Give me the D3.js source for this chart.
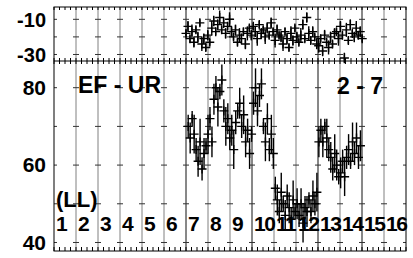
<!DOCTYPE html>
<html>
<head>
<meta charset="utf-8">
<script src="https://cdn.jsdelivr.net/npm/d3@7"></script>
<style>
  body { margin: 0; background: #fff; }
  svg { display: block; }
  text { font-family: "Liberation Sans", Arial, sans-serif; font-weight: bold; fill: #000; }
</style>
</head>
<body>
<svg id="chart" width="413" height="258"></svg>
<script>
// column labels along the bottom
const columnLabels = ["1","2","3","4","5","6","7","8","9","10","11","12","13","14","15","16"];
const upperTicks = [-10, -20, -30];
const upperLabels = [-10, -30];
const lowerTicks = [80, 70, 60, 50, 40];
const lowerLabels = [80, 60, 40];

// upper panel series (x starts at column 6.0, one sample every 0.09 column)
const upperStart = 6.0, upperStep = 0.09;
const upperValues = [
  -18, -14, -21, -17, -23, -16, -20, -12,
  -24, -21, -26, -19, -23,
  -15, -11, -17, -13, -9, -16, -12, -18, -14, -10, -17,
  -20, -16, -23, -19, -21, -17, -24, -18, -15,
  -19, -14, -17, -21, -13, -18, -16, -20, -15, -19, -12, -17, -22, -16, -19,
  -20, -24, -17, -21, -26, -18, -22, -15, -20, -23,
  -19, -13, -21, -9, -18, -22, -17, -20, -24,
  -25, -21, -28, -19, -23, -26, -20, -24, -18,
  -17, -21, -14, -19, -32, -16, -22, -13, -18, -20, -15, -19, -17, -21
];
const upperErrors = [
  2, 3, 2, 4, 3, 2, 3, 2, 4, 3,
  2, 3, 2, 4, 3, 2, 3, 4, 2, 3,
  3, 2, 4, 3, 2, 3, 2, 4, 3, 2,
  3, 4, 2, 3, 2, 3, 4, 2, 3, 2,
  4, 3, 2, 3, 2, 4, 3, 2, 3, 4,
  2, 3, 2, 4, 3, 2, 3, 2, 4, 3,
  2, 3, 4, 2, 3, 2, 3, 4, 2, 3,
  3, 2, 4, 3, 2, 3, 2, 4, 3, 2,
  3, 4, 2, 3, 2, 3, 4, 2, 3, 2
];

// lower panel series with error half-widths
const lowerStart = 6.1, lowerStep = 0.09;
const lowerValues = [
  70, 67, 72, 68,
  64, 61, 66, 59, 63, 65,
  68, 72, 66,
  77, 80, 75, 79, 82,
  74, 70, 72, 67,
  69, 64, 71,
  74, 76, 70, 73,
  66, 69, 63, 68,
  76, 80, 74, 78, 81,
  70, 66, 72, 64,
  68, 63, 54,
  51, 48, 53, 50, 47, 52,
  49, 46, 51, 48, 50,
  47, 50, 45, 49, 48,
  51, 48, 52, 50, 53,
  66,
  69, 66, 70, 67, 64,
  62, 59, 63, 60, 57,
  58, 61, 57, 62,
  64, 61, 66, 63, 67, 62, 65
];
const lowerErrors = [
  3, 4, 2, 5, 3, 4, 6, 3, 4, 2,
  5, 3, 4, 4, 3, 5, 2, 4, 3, 5,
  4, 3, 4, 5, 3, 2, 4, 3, 5, 4,
  3, 4, 2, 3, 5, 4, 3, 4, 2, 5,
  4, 3, 5, 4, 3, 4, 3, 5, 2, 4,
  3, 4, 3, 5, 2, 4, 3, 4, 5, 3,
  4, 2, 3, 4, 3, 5, 4, 3, 4, 2,
  5, 3, 4, 3, 5, 4, 2, 4, 3, 5,
  3, 4, 2, 5, 3, 4, 3, 4
];

const svg = d3.select("#chart");
const plotL = 54, plotR = 406, plotT = 7, plotM = 61, plotB = 251;

const x = d3.scaleLinear().domain([0, 16]).range([plotL, plotR]);
const yUp = d3.scaleLinear().domain([-33.7, -3.0]).range([plotM, plotT]);
const yLo = d3.scaleLinear().domain([37.8, 86.9]).range([plotB, plotM]);

const grid = svg.append("g");

// vertical grid lines (darker ones at some boundaries)
const darkCols = [6, 9, 12, 14];
grid.selectAll("line.v")
  .data(d3.range(1, 16))
  .enter().append("line")
  .attr("x1", d => x(d)).attr("x2", d => x(d))
  .attr("y1", plotT).attr("y2", plotB)
  .attr("stroke", d => darkCols.includes(d) ? "#111" : "#808080")
  .attr("stroke-width", 1);

// little crosses at the y ticks on every grid line
function tickMarks(ticks, y) {
  const pairs = [];
  d3.range(0, 17).forEach(c => ticks.forEach(t => pairs.push([c, t])));
  grid.append("g").selectAll("line")
    .data(pairs)
    .enter().append("line")
    .attr("x1", d => d[0] === 0 ? x(0) : x(d[0]) - 3)
    .attr("x2", d => d[0] === 16 ? x(16) : x(d[0]) + 3)
    .attr("y1", d => y(d[1])).attr("y2", d => y(d[1]))
    .attr("stroke", "#333");
}
tickMarks(upperTicks, yUp);
tickMarks(lowerTicks, yLo);

// quarter-column minor ticks on the horizontal edges
const minor = d3.range(0, 16.01, 0.25);
grid.append("g").selectAll("line")
  .data(minor).enter().append("line")
  .attr("x1", d => x(d)).attr("x2", d => x(d))
  .attr("y1", plotT).attr("y2", plotT + 3).attr("stroke", "#000");
grid.append("g").selectAll("line")
  .data(minor).enter().append("line")
  .attr("x1", d => x(d)).attr("x2", d => x(d))
  .attr("y1", plotM - 3).attr("y2", plotM + 3).attr("stroke", "#000");
grid.append("g").selectAll("line")
  .data(minor).enter().append("line")
  .attr("x1", d => x(d)).attr("x2", d => x(d))
  .attr("y1", plotB - 4).attr("y2", plotB).attr("stroke", "#000");

// frame
svg.append("rect")
  .attr("x", plotL).attr("y", plotT)
  .attr("width", plotR - plotL).attr("height", plotB - plotT)
  .attr("fill", "none").attr("stroke", "#000");
svg.append("line")
  .attr("x1", plotL).attr("x2", plotR)
  .attr("y1", plotM).attr("y2", plotM)
  .attr("stroke", "#000");

const upperData = upperValues.map((v, i) => ({ x: upperStart + i * upperStep, y: v, e: upperErrors[i] }));
const lowerData = lowerValues.map((v, i) => ({ x: lowerStart + i * lowerStep, y: v, e: lowerErrors[i] }));

function drawSeries(data, y, cs) {
  const g = svg.append("g").attr("stroke", "#000").attr("stroke-width", 1.4);
  g.selectAll("line")
    .data(data).enter().append("line")
    .attr("x1", d => x(d.x)).attr("x2", d => x(d.x))
    .attr("y1", d => y(d.y + d.e)).attr("y2", d => y(d.y - d.e));
  g.selectAll("path")
    .data(data).enter().append("path")
    .attr("d", d => {
      const px = x(d.x), py = y(d.y);
      return `M${px - cs},${py}H${px + cs}M${px},${py - cs}V${py + cs}`;
    });
}
drawSeries(upperData, yUp, 4.5);
drawSeries(lowerData, yLo, 4.5);

// y labels
svg.selectAll("text.yu")
  .data(upperLabels).enter().append("text")
  .attr("x", 46).attr("y", d => yUp(d) + 2.5)
  .attr("text-anchor", "end").attr("dominant-baseline", "middle")
  .attr("font-size", 20)
  .text(d => d);
svg.selectAll("text.yl")
  .data(lowerLabels).enter().append("text")
  .attr("x", 46).attr("y", d => yLo(d) + 1.5)
  .attr("text-anchor", "end").attr("dominant-baseline", "middle")
  .attr("font-size", 21)
  .text(d => d);

// column numbers (two-digit ones are squeezed into their column)
svg.selectAll("text.col")
  .data(columnLabels).enter().append("text")
  .attr("x", (d, i) => x(i) + 2)
  .attr("y", 231)
  .attr("font-size", 21)
  .attr("letter-spacing", d => d.length > 1 ? -1.5 : 0)
  .text(d => d);

svg.append("text").attr("x", 78).attr("y", 93).attr("font-size", 23).text("EF - UR");
svg.append("text").attr("x", 337).attr("y", 94).attr("font-size", 23).text("2 - 7");
svg.append("text").attr("x", 56).attr("y", 207).attr("font-size", 22).text("(LL)");
</script>
</body>
</html>
